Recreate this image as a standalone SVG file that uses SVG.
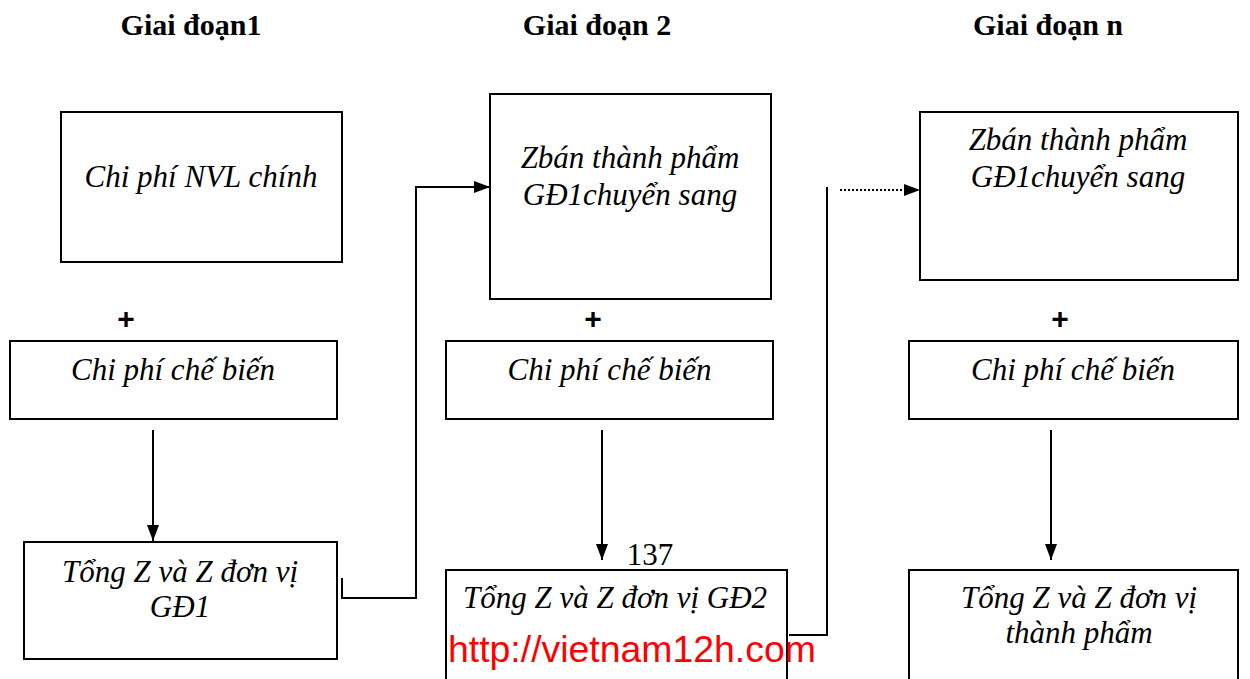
<svg xmlns="http://www.w3.org/2000/svg" width="1250" height="679" viewBox="0 0 1250 679">
<style>
.box{fill:#fff;stroke:#000;stroke-width:2}
.t{font-family:"Liberation Serif","Times New Roman",serif;font-style:italic;font-size:31px;fill:#000;text-anchor:middle}
.h{font-family:"Liberation Serif","Times New Roman",serif;font-weight:bold;font-size:30px;fill:#000;text-anchor:middle}
.p{font-family:"Liberation Sans",Arial,sans-serif;font-weight:bold;font-size:30px;fill:#000;text-anchor:middle}
.c{fill:none;stroke:#000;stroke-width:2}
</style>
<defs>
<marker id="ah" markerWidth="16" markerHeight="12" refX="16" refY="6" orient="auto" markerUnits="userSpaceOnUse">
<path d="M0,0 L16,6 L0,12 Z" fill="#000"/>
</marker>
</defs>
<rect width="1250" height="679" fill="#fff"/>
<g id="headers">
<text class="h" x="191" y="35">Giai đoạn1</text>
<text class="h" x="597" y="35">Giai đoạn 2</text>
<text class="h" x="1048" y="35">Giai đoạn n</text>
</g>
<g id="n1"><rect class="box" x="61" y="112" width="281" height="150"/><text class="t" x="201" y="187">Chi phí NVL chính</text></g>
<g id="n2"><rect class="box" x="10" y="341" width="327" height="78"/><text class="t" x="173" y="380">Chi phí chế biến</text></g>
<g id="n3"><rect class="box" x="24" y="542" width="313" height="117"/><text class="t" x="180" y="582">Tổng Z và Z đơn vị</text><text class="t" x="180" y="617">GĐ1</text></g>
<g id="n4"><rect class="box" x="490" y="94" width="281" height="205"/><text class="t" x="630" y="168">Zbán thành phẩm</text><text class="t" x="630" y="205">GĐ1chuyển sang</text></g>
<g id="n5"><rect class="box" x="446" y="341" width="327" height="78"/><text class="t" x="609.5" y="380">Chi phí chế biến</text></g>
<g id="n6"><rect class="box" x="446" y="570" width="341" height="115"/><text class="t" x="615" y="608">Tổng Z và Z đơn vị GĐ2</text></g>
<g id="n7"><rect class="box" x="920" y="112" width="318" height="168"/><text class="t" x="1078" y="150">Zbán thành phẩm</text><text class="t" x="1078" y="187">GĐ1chuyển sang</text></g>
<g id="n8"><rect class="box" x="909" y="341" width="329" height="78"/><text class="t" x="1073" y="380">Chi phí chế biến</text></g>
<g id="n9"><rect class="box" x="909" y="570" width="329" height="115"/><text class="t" x="1079" y="608">Tổng Z và Z đơn vị</text><text class="t" x="1079" y="643">thành phẩm</text></g>
<g id="plus">
<text class="p" x="126" y="329">+</text>
<text class="p" x="593" y="329">+</text>
<text class="p" x="1060" y="329">+</text>
</g>
<g id="connectors">
<line class="c" x1="153" y1="430" x2="153" y2="541" marker-end="url(#ah)"/>
<line class="c" x1="602" y1="430" x2="602" y2="560" marker-end="url(#ah)"/>
<line class="c" x1="1051" y1="430" x2="1051" y2="560" marker-end="url(#ah)"/>
<polyline class="c" points="342,578 342,598 416,598 416,187 490,187" marker-end="url(#ah)"/>
<polyline class="c" points="789,635 827,635 827,187"/>
<line x1="840" y1="190" x2="920" y2="190" stroke="#000" stroke-width="2" stroke-dasharray="2,2" marker-end="url(#ah)"/>
</g>
<text x="650" y="565" font-family="Liberation Serif,Times New Roman,serif" font-size="31" text-anchor="middle" fill="#000">137</text>
<text x="448" y="662" font-family="Liberation Sans,Arial,sans-serif" font-size="37.4" fill="#ff0000">http://vietnam12h.com</text>
</svg>
